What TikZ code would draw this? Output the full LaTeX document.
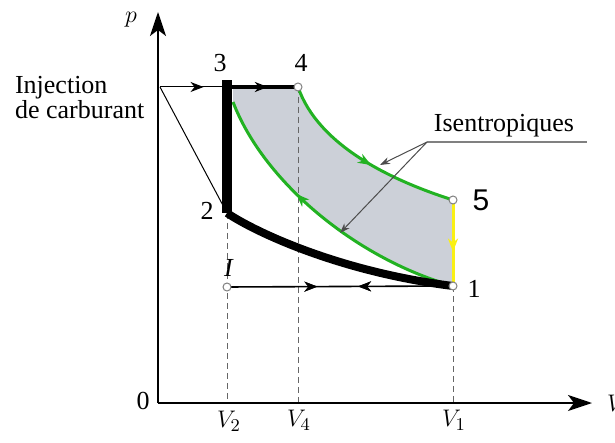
\documentclass[tikz,border=0pt]{standalone}
\usepackage{fontspec}
\setmainfont{Liberation Serif}
\newfontfamily\numfont{Liberation Sans}
\usetikzlibrary{arrows.meta,decorations.markings}
\definecolor{isogreen}{RGB}{34,178,34}
\definecolor{cyclegray}{RGB}{204,208,216}
\definecolor{pushyellow}{RGB}{250,240,20}
\tikzset{
  axis/.style={line width=1pt,-{Stealth[length=12pt,width=8pt,inset=3pt]}},
  guide/.style={dashed,gray!80!black,line width=0.5pt,dash pattern=on 3pt off 2pt},
  state/.style={circle,draw=gray,fill=white,line width=0.5pt,inner sep=0pt,minimum size=4pt},
  midarrow/.style={postaction={decorate},decoration={markings,
    mark=at position #1 with {\arrow{Stealth[length=6.5pt,width=5pt,inset=2pt]}}}},
  backarrow/.style={postaction={decorate},decoration={markings,
    mark=at position #1 with {\arrowreversed{Stealth[length=6.5pt,width=5pt,inset=2pt]}}}},
  pointer/.style={gray!60!black,line width=0.5pt,-{Stealth[length=5pt,width=3.5pt]}}
}
\begin{document}
\begin{tikzpicture}[x=0.5pt,y=-0.5pt,font=\fontsize{13}{12.5}\selectfont]
\useasboundingbox (0,0) rectangle (615,443);
\coordinate (o) at (158,403);
\coordinate (ytip) at (158,12);
\coordinate (xtip) at (592,403);
\coordinate (s1) at (453,286);
\coordinate (s2) at (227,213);
\coordinate (s3) at (227,87);
\coordinate (s4) at (298,87);
\coordinate (s5) at (453,200);
\coordinate (sI) at (227,287);
\coordinate (inj) at (160,87);
\coordinate (g3) at (233,102);
\coordinate (v2) at (227,403);
\coordinate (v4) at (298,403);
\coordinate (v1) at (453,403);
\coordinate (fork) at (427,142);
\coordinate (tail) at (587,142);
\coordinate (h1) at (380,165);
\coordinate (h2) at (340,233);
% shaded work area
\fill[cyclegray] (233,87) -- (s4) .. controls (318,145) and (390,180) .. (s5)
  -- (s1) .. controls (360,260) and (265,185) .. (g3) -- cycle;
% guides
\draw[guide] (s2) -- (v2);
\draw[guide] (s4) -- (v4);
\draw[guide] (s1) -- (v1);
% axes
\draw[axis] (o) -- (ytip);
\draw[axis] (o) -- (xtip);
% cycle
\draw[isogreen,line width=1.5pt,midarrow=0.55] (s4) .. controls (318,145) and (390,180) .. (s5);
\draw[isogreen,line width=1.5pt,midarrow=0.62] (s1) .. controls (360,260) and (265,185) .. (g3);
\draw[pushyellow,line width=1.5pt,midarrow=0.6] (s5) -- (s1);
\draw[line width=4pt] (s2) .. controls (255,232) and (340,272) .. (s1);
\draw[line width=5pt] (s2) -- ([yshift=3.5pt]s3);
\draw[line width=2pt,midarrow=0.55] (231,87) -- (s4);
\draw[line width=0.8pt,midarrow=0.4,backarrow=0.58] (sI) -- (s1);
\draw[line width=0.5pt,midarrow=0.65] (inj) -- (s3);
\draw[line width=0.5pt] (inj) -- (s2);
% isentropic pointer
\draw[gray,line width=1pt] (fork) -- (tail);
\draw[pointer] (fork) -- (h1);
\draw[pointer] (fork) -- (h2);
% states
\node[state] at (s4) {};
\node[state] at (s5) {};
\node[state] at (s1) {};
\node[state] at (sI) {};
% labels
\node (l3) at (220,63) {3};
\node (l4) at (301,63) {4};
\node (l2) at (207,211) {2};
\node (l5) at (481,200) {\numfont\fontsize{15}{15}\selectfont 5};
\node (l1) at (474,289) {1};
\node (lI) at (229,268) {\textit{I}};
\node (l0) at (143,401) {0};
\node (lp) at (131,20) {$p$};
\node (lV2) at (229,421) {$V_2$};
\node (lV4) at (299,420) {$V_4$};
\node (lV1) at (454,420) {$V_1$};
\node[anchor=west] (lV) at (600,403) {$V$};
\node[align=left,anchor=west] (linj) at (8,98) {Injection\\de carburant};
\node (liso) at (504,126) {Isentropiques};
\end{tikzpicture}
\end{document}
